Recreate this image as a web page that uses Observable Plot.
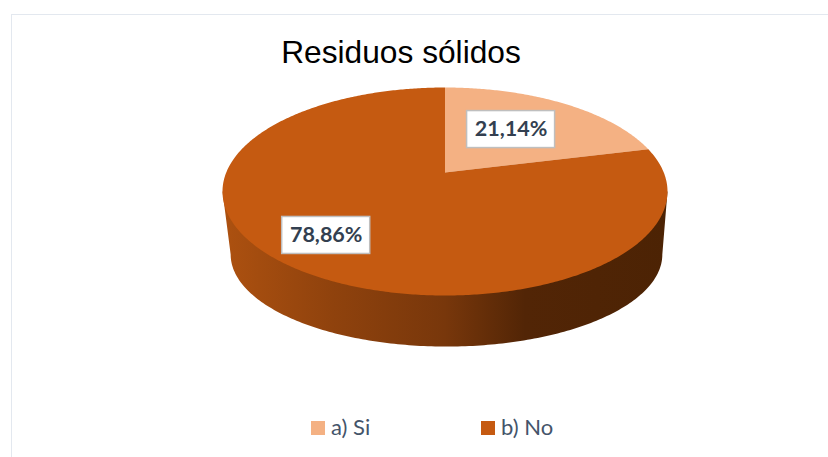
<!DOCTYPE html>
<html lang="es">
<head>
<meta charset="utf-8">
<script src="https://cdn.jsdelivr.net/npm/d3@7"></script>
<script src="https://cdn.jsdelivr.net/npm/@observablehq/plot@0.6"></script>
<style>
  html, body { margin: 0; padding: 0; background: #fff; }
  #page { position: relative; width: 828px; height: 457px; overflow: hidden; }
  #frame { position: absolute; left: 11px; top: 14px; width: 840px; height: 500px; border: 1.5px solid #e3e8ef; box-sizing: border-box; }
  #title { position: absolute; left: 0; top: 32px; width: 802px; text-align: center; font: 31.7px "Liberation Sans", Arial, sans-serif; color: #000; line-height: 40px; }
  #chart { position: absolute; left: 0; top: 75px; }
  #legend { position: absolute; top: 0; left: 0; font: 22px Lato, sans-serif; color: #44546a; }
  .key { position: absolute; top: 414px; white-space: nowrap; line-height: 26px; height: 26px; }
  .swatch { position: absolute; left: 0; top: 7px; width: 14px; height: 14px; }
  .key span.t { position: absolute; left: 20px; top: 0; }
</style>
</head>
<body>
<div id="page">
  <div id="frame"></div>
  <div id="title">Residuos sólidos</div>
  <div id="chart"></div>
  <div id="legend"></div>
</div>
<script>
const categories = ["a) Si", "b) No"];
const shares = [21.14, 78.86];
const labels = ["21,14%", "78,86%"];
const colors = ["#f4b183", "#c55a11"];

// Pie view: perspective of the disc and wall, in units of the top ellipse's radii
const tilt = 0.183;
const wall = {cx: 0.0067, cy: -0.606, rx: 0.97, ry: 0.885};
const labelRadius = [0.588, 0.714];
const labelNudge = [-7, -11.5];
const boxHalf = {x: 44 / 222.5, y: 18.5 / 104};

function project(r, theta) {
  const u = r * Math.sin(theta), v = r * Math.cos(theta);
  const w = 1 + tilt * v;
  return {x: u * Math.sqrt(1 - tilt * tilt) / w, y: (v + tilt) / w};
}

const total = d3.sum(shares);
let start = 0;
const slices = [], labelRows = [];
categories.forEach((category, i) => {
  const sweep = shares[i] / total * 2 * Math.PI;
  slices.push({category, ...project(0, 0)});
  const steps = Math.ceil(shares[i] * 6);
  for (let k = 0; k <= steps; ++k) {
    slices.push({category, ...project(1, start + sweep * k / steps)});
  }
  const c = project(labelRadius[i], start + sweep / 2);
  labelRows.push({...c, x: c.x + labelNudge[i] / 222.5, label: labels[i]});
  start += sweep;
});

const wallOutline = [];
for (let k = 0; k <= 180; ++k) {
  const a = Math.PI * k / 180;
  wallOutline.push({x: wall.cx - wall.rx * Math.cos(a), y: wall.cy - wall.ry * Math.sin(a)});
}
wallOutline.unshift({x: -1, y: 0});
wallOutline.push({x: 1, y: 0});

const wallGradient = () => {
  const defs = d3.create("svg:defs");
  const g = defs.append("linearGradient").attr("id", "wallShade");
  [[0, "#ad5110"], [0.25, "#8f420d"], [0.5, "#78370b"], [0.68, "#522506"], [1, "#4c2304"]].forEach(([o, c]) =>
    g.append("stop").attr("offset", o).attr("stop-color", c));
  return defs.node();
};

const plot = Plot.plot({
  width: 828,
  height: 330,
  margin: 0,
  x: {domain: [-1, 1], range: [222, 667], axis: null},
  y: {domain: [-1, 1], range: [220, 12], axis: null},
  color: {domain: categories, range: colors},
  style: {background: "transparent"},
  marks: [
    wallGradient,
    Plot.line(wallOutline, {x: "x", y: "y", fill: "url(#wallShade)", stroke: "none"}),
    Plot.line(slices, {x: "x", y: "y", z: "category", fill: "category", stroke: "none"}),
    Plot.rect(labelRows, {
      x1: d => d.x - boxHalf.x, x2: d => d.x + boxHalf.x,
      y1: d => d.y - boxHalf.y, y2: d => d.y + boxHalf.y,
      fill: "#fff", stroke: "#bfbfbf", strokeWidth: 1.5
    }),
    Plot.text(labelRows, {
      x: "x", y: "y", text: "label", fill: "#333f50",
      fontFamily: "Lato, sans-serif", fontWeight: 700, fontSize: 21.5
    })
  ]
});
document.getElementById("chart").append(plot);

const legendLeft = [311, 481];
const legend = document.getElementById("legend");
categories.forEach((c, i) => {
  const key = document.createElement("div");
  key.className = "key";
  key.style.left = legendLeft[i] + "px";
  const sw = document.createElement("div");
  sw.className = "swatch";
  sw.style.background = colors[i];
  const t = document.createElement("span");
  t.className = "t";
  t.textContent = c;
  key.append(sw, t);
  legend.append(key);
});
</script>
</body>
</html>
